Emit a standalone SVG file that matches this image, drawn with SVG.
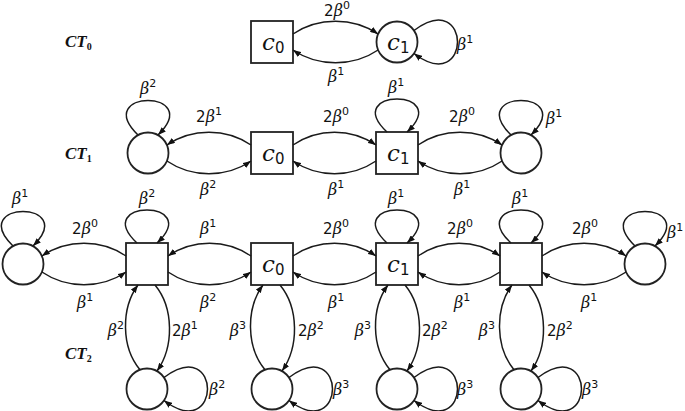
<svg xmlns="http://www.w3.org/2000/svg" width="685" height="411" viewBox="0 0 685 411">
<style>
.nd{fill:#fff;stroke:#222;stroke-width:1.8}
.e{fill:none;stroke:#1a1a1a;stroke-width:1.5;marker-end:url(#ah)}
.lbl{font-family:"DejaVu Sans",sans-serif;font-size:15px;fill:#111}
.b{font-family:"DejaVu Serif",serif;font-style:italic;font-size:16px}
.sup{font-size:11px}
.nm{font-family:"DejaVu Serif",serif;font-style:italic;font-size:23px;fill:#111}
.sub{font-family:"DejaVu Sans",sans-serif;font-style:normal;font-size:15px}
.ct{font-family:"Liberation Serif",serif;font-style:italic;font-weight:bold;font-size:17px;fill:#111}
.cts{font-style:normal;font-size:10px}
.m{text-anchor:middle}
.r{text-anchor:end}
</style>
<defs>
<marker id="ah" viewBox="0 0 8 6" refX="8" refY="3" markerWidth="8" markerHeight="6" markerUnits="userSpaceOnUse" orient="auto"><path d="M0,0 L8,3 L0,6 z" fill="#111"/></marker>
</defs>

<g id="ct-labels">
<text class="ct" x="65" y="47">CT<tspan class="cts" dy="3">0</tspan></text>
<text class="ct" x="65" y="159">CT<tspan class="cts" dy="3">1</tspan></text>
<text class="ct" x="65" y="359">CT<tspan class="cts" dy="3">2</tspan></text>
</g>

<!-- CT0 -->
<g id="ct0-c0"><rect class="nd" x="251" y="21" width="42" height="42"/><text class="nm" x="262" y="50">c<tspan class="sub" dy="3">0</tspan></text></g>
<g id="ct0-c1"><circle class="nd" cx="397" cy="42" r="20.5"/><text class="nm" x="387" y="50">c<tspan class="sub" dy="3">1</tspan></text></g>

<!-- CT1 -->
<g id="ct1-l"><circle class="nd" cx="148" cy="153" r="20.5"/></g>
<g id="ct1-c0"><rect class="nd" x="251" y="132" width="42" height="42"/><text class="nm" x="262" y="161">c<tspan class="sub" dy="3">0</tspan></text></g>
<g id="ct1-c1"><rect class="nd" x="376" y="132" width="42" height="42"/><text class="nm" x="387" y="161">c<tspan class="sub" dy="3">1</tspan></text></g>
<g id="ct1-r"><circle class="nd" cx="521" cy="153" r="20.5"/></g>

<!-- CT2 -->
<g id="ct2-l"><circle class="nd" cx="23" cy="264" r="20.5"/></g>
<g id="ct2-a"><rect class="nd" x="126" y="243" width="42" height="42"/></g>
<g id="ct2-c0"><rect class="nd" x="251" y="243" width="42" height="42"/><text class="nm" x="262" y="272">c<tspan class="sub" dy="3">0</tspan></text></g>
<g id="ct2-c1"><rect class="nd" x="376" y="243" width="42" height="42"/><text class="nm" x="387" y="272">c<tspan class="sub" dy="3">1</tspan></text></g>
<g id="ct2-d"><rect class="nd" x="500" y="243" width="42" height="42"/></g>
<g id="ct2-r"><circle class="nd" cx="645" cy="264" r="20.5"/></g>
<g id="ct2-b1"><circle class="nd" cx="147" cy="389" r="20.5"/></g>
<g id="ct2-b2"><circle class="nd" cx="272" cy="389" r="20.5"/></g>
<g id="ct2-b3"><circle class="nd" cx="397" cy="389" r="20.5"/></g>
<g id="ct2-b4"><circle class="nd" cx="521" cy="389" r="20.5"/></g>

<g id="connectors">
<!-- CT0 -->
<path class="e" d="M293,34 C318,17 353,17 378.1,34"/>
<path class="e" d="M378.1,50 C353,67 318,67 293,50"/>
<path class="e" d="M414,30.5 C472,-13 472,97 414,53.5"/>
<!-- CT1 -->
<path class="e" d="M251,145 C226,128 192,128 166.9,145"/>
<path class="e" d="M166.9,161 C192,178 226,178 251,161"/>
<path class="e" d="M293,145 C318,128 351,128 376,145"/>
<path class="e" d="M376,161 C351,178 318,178 293,161"/>
<path class="e" d="M418,145 C443,128 477,128 502.1,145"/>
<path class="e" d="M502.1,161 C477,178 443,178 418,161"/>
<path class="e" d="M138,135 C91,89 205,89 158,135"/>
<path class="e" d="M387,132 C340,88 454,88 407,132"/>
<path class="e" d="M511,135 C464,89 578,89 531,135"/>
<!-- CT2 horizontal -->
<path class="e" d="M126,256 C101,239 67,239 41.9,256"/>
<path class="e" d="M41.9,272 C67,289 101,289 126,272"/>
<path class="e" d="M251,256 C226,239 193,239 168,256"/>
<path class="e" d="M168,272 C193,289 226,289 251,272"/>
<path class="e" d="M293,256 C318,239 351,239 376,256"/>
<path class="e" d="M376,272 C351,289 318,289 293,272"/>
<path class="e" d="M418,256 C443,239 475,239 500,256"/>
<path class="e" d="M500,272 C475,289 443,289 418,272"/>
<path class="e" d="M542,256 C567,239 601,239 626.1,256"/>
<path class="e" d="M626.1,272 C601,289 567,289 542,272"/>
<!-- CT2 top loops -->
<path class="e" d="M13,246 C-34,200 80,200 33,246"/>
<path class="e" d="M137,243 C90,199 204,199 157,243"/>
<path class="e" d="M387,243 C340,199 454,199 407,243"/>
<path class="e" d="M511,243 C464,199 578,199 531,243"/>
<path class="e" d="M635,246 C588,200 702,200 655,246"/>
<!-- CT2 vertical -->
<path class="e" d="M140,369.7 C121,347 121,308 138,285"/>
<path class="e" d="M155,285 C174,308 174,347 157,371"/>
<path class="e" d="M265,369.7 C246,347 246,308 263,285"/>
<path class="e" d="M280,285 C299,308 299,347 282,371"/>
<path class="e" d="M390,369.7 C371,347 371,308 388,285"/>
<path class="e" d="M405,285 C424,308 424,347 407,371"/>
<path class="e" d="M514,369.7 C495,347 495,308 512,285"/>
<path class="e" d="M529,285 C548,308 548,347 531,371"/>
<!-- bottom side loops -->
<path class="e" d="M164,377.5 C222,334 222,444 164,400.5"/>
<path class="e" d="M289,377.5 C347,334 347,444 289,400.5"/>
<path class="e" d="M414,377.5 C472,334 472,444 414,400.5"/>
<path class="e" d="M538,377.5 C596,334 596,444 538,400.5"/>
</g>

<g id="edge-labels" class="lbl">
<!-- CT0 -->
<text class="m" x="337" y="16">2<tspan class="b">β</tspan><tspan class="sup" dy="-7">0</tspan></text>
<text class="m" x="336" y="82"><tspan class="b">β</tspan><tspan class="sup" dy="-7">1</tspan></text>
<text x="457" y="50"><tspan class="b">β</tspan><tspan class="sup" dy="-7">1</tspan></text>
<!-- CT1 -->
<text class="m" x="148" y="94"><tspan class="b">β</tspan><tspan class="sup" dy="-7">2</tspan></text>
<text class="m" x="396" y="93"><tspan class="b">β</tspan><tspan class="sup" dy="-7">1</tspan></text>
<text x="546" y="124"><tspan class="b">β</tspan><tspan class="sup" dy="-7">1</tspan></text>
<text class="m" x="209" y="122">2<tspan class="b">β</tspan><tspan class="sup" dy="-7">1</tspan></text>
<text class="m" x="208" y="195"><tspan class="b">β</tspan><tspan class="sup" dy="-7">2</tspan></text>
<text class="m" x="336" y="122">2<tspan class="b">β</tspan><tspan class="sup" dy="-7">0</tspan></text>
<text class="m" x="336" y="195"><tspan class="b">β</tspan><tspan class="sup" dy="-7">1</tspan></text>
<text class="m" x="462" y="122">2<tspan class="b">β</tspan><tspan class="sup" dy="-7">0</tspan></text>
<text class="m" x="462" y="195"><tspan class="b">β</tspan><tspan class="sup" dy="-7">1</tspan></text>
<!-- CT2 loops -->
<text class="m" x="20" y="204"><tspan class="b">β</tspan><tspan class="sup" dy="-7">1</tspan></text>
<text class="m" x="147" y="204"><tspan class="b">β</tspan><tspan class="sup" dy="-7">2</tspan></text>
<text class="m" x="396" y="204"><tspan class="b">β</tspan><tspan class="sup" dy="-7">1</tspan></text>
<text class="m" x="520" y="204"><tspan class="b">β</tspan><tspan class="sup" dy="-7">1</tspan></text>
<text x="667" y="238"><tspan class="b">β</tspan><tspan class="sup" dy="-7">1</tspan></text>
<!-- CT2 horizontal -->
<text class="m" x="85" y="234">2<tspan class="b">β</tspan><tspan class="sup" dy="-7">0</tspan></text>
<text class="m" x="85" y="308"><tspan class="b">β</tspan><tspan class="sup" dy="-7">1</tspan></text>
<text class="m" x="208" y="234"><tspan class="b">β</tspan><tspan class="sup" dy="-7">1</tspan></text>
<text class="m" x="208" y="308"><tspan class="b">β</tspan><tspan class="sup" dy="-7">2</tspan></text>
<text class="m" x="336" y="234">2<tspan class="b">β</tspan><tspan class="sup" dy="-7">0</tspan></text>
<text class="m" x="336" y="308"><tspan class="b">β</tspan><tspan class="sup" dy="-7">1</tspan></text>
<text class="m" x="460" y="234">2<tspan class="b">β</tspan><tspan class="sup" dy="-7">0</tspan></text>
<text class="m" x="462" y="308"><tspan class="b">β</tspan><tspan class="sup" dy="-7">1</tspan></text>
<text class="m" x="585" y="234">2<tspan class="b">β</tspan><tspan class="sup" dy="-7">0</tspan></text>
<text class="m" x="589" y="308"><tspan class="b">β</tspan><tspan class="sup" dy="-7">1</tspan></text>
<!-- CT2 vertical -->
<text class="r" x="124" y="336"><tspan class="b">β</tspan><tspan class="sup" dy="-7">2</tspan></text>
<text x="172" y="336">2<tspan class="b">β</tspan><tspan class="sup" dy="-7">1</tspan></text>
<text class="r" x="246" y="336"><tspan class="b">β</tspan><tspan class="sup" dy="-7">3</tspan></text>
<text x="298" y="336">2<tspan class="b">β</tspan><tspan class="sup" dy="-7">2</tspan></text>
<text class="r" x="371" y="336"><tspan class="b">β</tspan><tspan class="sup" dy="-7">3</tspan></text>
<text x="422" y="336">2<tspan class="b">β</tspan><tspan class="sup" dy="-7">2</tspan></text>
<text class="r" x="495" y="336"><tspan class="b">β</tspan><tspan class="sup" dy="-7">3</tspan></text>
<text x="547" y="336">2<tspan class="b">β</tspan><tspan class="sup" dy="-7">2</tspan></text>
<!-- bottom loops -->
<text x="209" y="395"><tspan class="b">β</tspan><tspan class="sup" dy="-7">2</tspan></text>
<text x="333" y="395"><tspan class="b">β</tspan><tspan class="sup" dy="-7">3</tspan></text>
<text x="457" y="395"><tspan class="b">β</tspan><tspan class="sup" dy="-7">3</tspan></text>
<text x="582" y="395"><tspan class="b">β</tspan><tspan class="sup" dy="-7">3</tspan></text>
</g>
</svg>
